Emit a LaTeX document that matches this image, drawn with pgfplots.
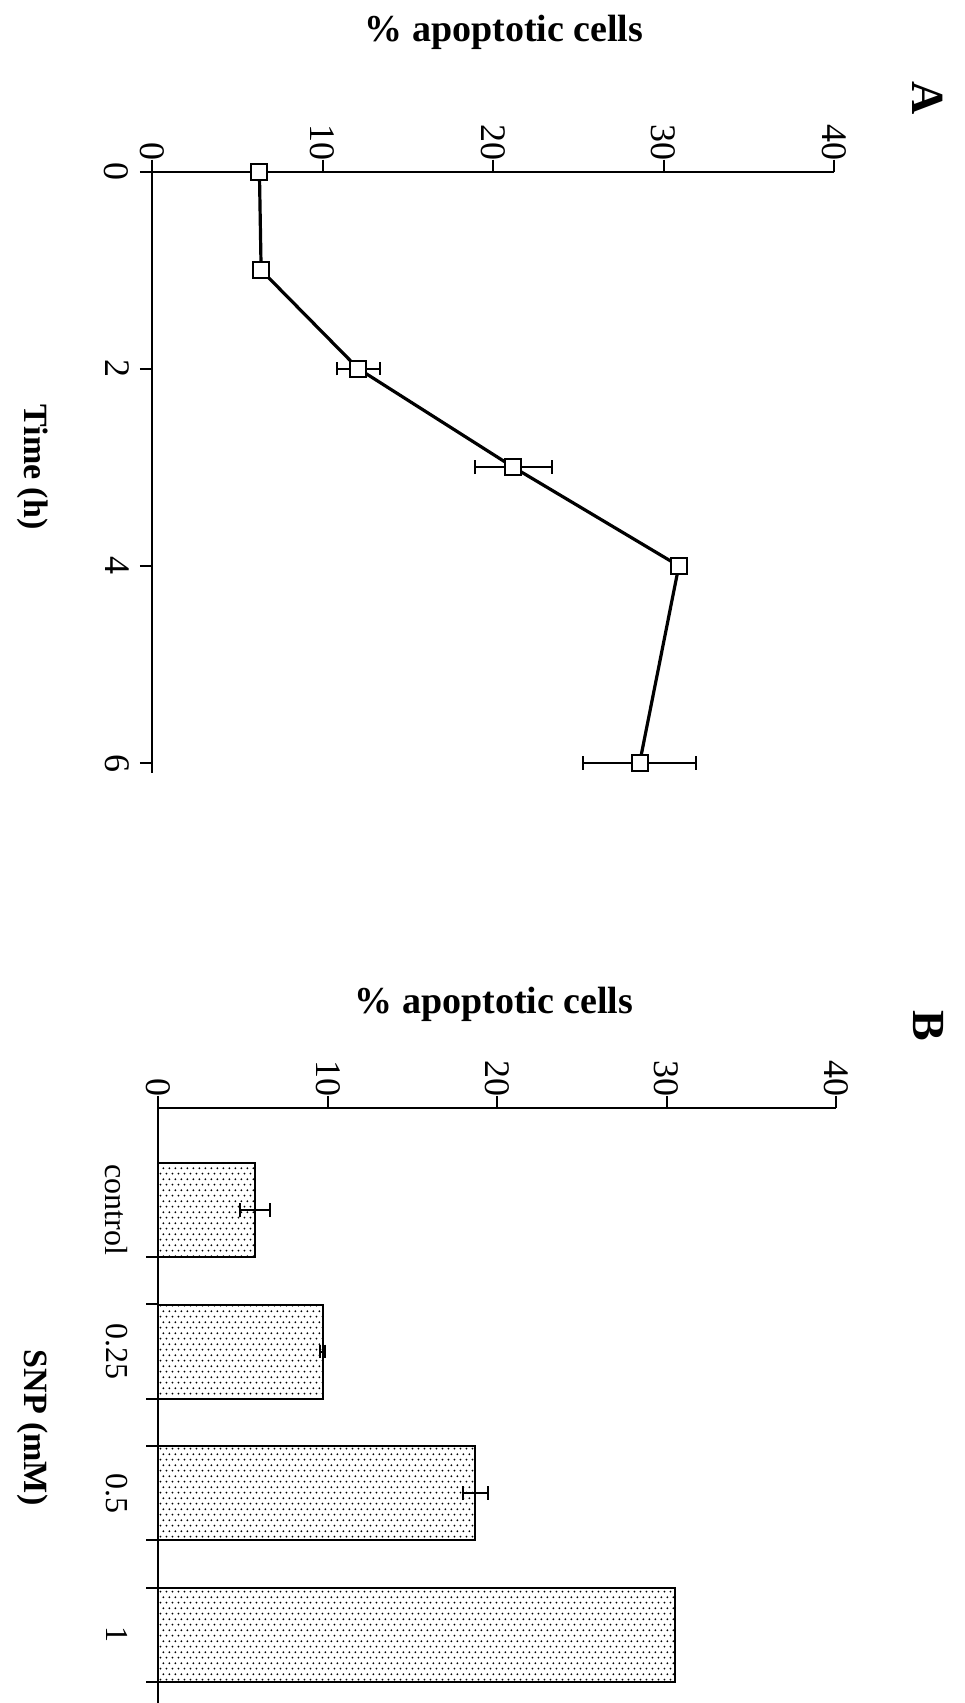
\documentclass[border=0pt]{standalone}
\usepackage{fontspec}
\setmainfont{Liberation Serif}
\usepackage{pgfplots}
\pgfplotsset{compat=1.18}
\usepackage{pgfplotstable}
\usetikzlibrary{patterns}

\pgfdeclarepatternformonly{mydots}{\pgfpointorigin}{\pgfpoint{3.2pt}{5.7pt}}{\pgfpoint{3.2pt}{5.7pt}}{%
  \pgfpathcircle{\pgfpoint{0.8pt}{0.7pt}}{0.55pt}%
  \pgfpathcircle{\pgfpoint{2.4pt}{3.55pt}}{0.55pt}%
  \pgfusepath{fill}}

% Panel A: time course
\pgfplotstableread{
t pct
0 6.3
1 6.4
2 12.1
3 21.2
4 30.9
6 28.6
}\timedata
\pgfplotstableread{
t pct err
2 12.1 1.25
3 21.2 2.25
6 28.6 3.3
}\timeerr

% Panel B: SNP dose
\pgfplotstableread{
pos pct
0 5.7
1 9.7
2 18.7
3 30.5
}\snpdata
\pgfplotstableread{
pos pct err
0 5.7 0.9
1 9.7 0.15
2 18.7 0.75
}\snperr

\pgfplotsset{
  panel/.style={
    scale only axis,
    xmin=0, xmax=40,
    y dir=reverse,
    axis x line*=top, axis y line*=left,
    axis line style={line width=1pt, black},
    every tick/.style={black, line width=1pt},
    major tick length=6pt,
    minor tick length=6pt,
    tick align=outside,
    xtick={0,10,20,30,40},
    tick label style={font=\fontsize{18}{21}\selectfont},
    xticklabel style={rotate=-90, anchor=east, xshift=4pt},
    yticklabel style={rotate=-90, anchor=north},
    /pgf/number format/assume math mode=true,
    clip=false,
  },
  ebars/.style={draw=none, mark=none, forget plot,
    error bars/.cd, x dir=both, x explicit,
    error bar style={draw=black, line width=1pt, solid},
    error mark options={rotate=90, mark size=3.4pt, line width=1pt, draw=black}},
}

\begin{document}
\begin{tikzpicture}
\path[use as bounding box] (0,0) rectangle (482pt,-851.5pt);

% Panel A
\begin{axis}[panel,
  at={(76pt,-85.75pt)}, anchor=origin,
  width=341pt, height=300.7pt,
  ymin=0, ymax=6.1,
  ytick={0,2,4,6},
  yticklabel style={yshift=-2pt},
]
\addplot[ebars] table[x=pct, y=t, x error=err]{\timeerr};
\addplot[black, line width=1.6pt, mark=square*, mark size=4pt,
  mark options={fill=white, line width=1pt}]
  table[x=pct, y=t]{\timedata};
\end{axis}

% Panel B
\begin{axis}[panel,
  at={(79.25pt,-604.9pt)}, anchor=origin,
  width=338.75pt, height=297.6pt,
  ymin=-0.72, ymax=3.48,
  ytick={0,1,2,3},
  yticklabels={control,0.25,0.5,1},
  major y tick style={draw=none},
  minor ytick={0.333,0.667,1.333,1.667,2.333,2.667,3.333},
  yticklabel style={yshift=-6pt, font=\fontsize{16}{19}\selectfont},
]
\addplot[xbar, bar width=47pt, draw=black, line width=1pt,
  pattern=mydots, pattern color=black]
  table[x=pct, y=pos]{\snpdata};
\addplot[ebars] table[x=pct, y=pos, x error=err]{\snperr};
\end{axis}

% Labels
\node[font=\fontsize{19}{22}\selectfont\bfseries] at (252pt,-16.3pt) {\% apoptotic cells};
\node[font=\fontsize{17}{20}\selectfont\bfseries, rotate=-90] at (16.25pt,-233.5pt) {Time (h)};
\node[font=\fontsize{23}{26}\selectfont\bfseries, rotate=-90] at (464pt,-49pt) {A};

\node[font=\fontsize{19}{22}\selectfont\bfseries] at (247pt,-502pt) {\% apoptotic cells};
\node[font=\fontsize{17}{20}\selectfont\bfseries, rotate=-90] at (16.25pt,-713.75pt) {SNP (mM)};
\node[font=\fontsize{23}{26}\selectfont\bfseries, rotate=-90] at (464pt,-513pt) {B};
\end{tikzpicture}
\end{document}
